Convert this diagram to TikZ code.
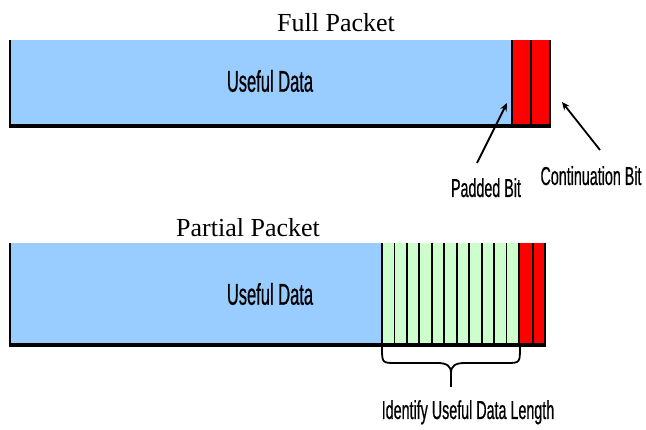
\documentclass[tikz,border=0pt]{standalone}
\usepackage{fontspec}
\setmainfont{Liberation Serif}
\newfontfamily\narrowsans[FakeStretch=0.55,FakeBold=0.6]{Liberation Sans}
\usetikzlibrary{arrows.meta}
\definecolor{datablue}{HTML}{99CCFF}
\definecolor{lengreen}{HTML}{CCFFCC}
\definecolor{bitred}{HTML}{FF0000}
\begin{document}
\begin{tikzpicture}[x=1pt,y=-1pt,
  titletext/.style={font=\fontsize{26}{30}\selectfont, inner sep=0pt, anchor=base},
  datatext/.style={font=\narrowsans\fontsize{30}{34}\selectfont, inner sep=0pt},
  labeltext/.style={font=\narrowsans\fontsize{26}{30}\selectfont, inner sep=0pt, anchor=base},
  divider/.style={line width=1.8pt},
  baseline/.style={line width=3.5pt},
  pointer/.style={line width=1.8pt, -{Stealth[length=8pt,width=7pt]}},
  bracestyle/.style={line width=1.8pt, line join=round}]
\useasboundingbox (0,0) rectangle (646,430);

% ---------- Full packet ----------
\node[titletext] (fulltitle) at (336,32) {Full Packet};
\fill[datablue] (10,40) rectangle (512,125);
\fill[bitred] (512,40) rectangle (550,125);
\draw[divider] (10,40) -- (10,126);
\foreach \xx in {512,531,550} \draw[divider] (\xx,40) -- (\xx,126);
\draw[baseline] (8.5,126) -- (551,126);
\node[datatext] (fulldata) at (270,81) {Useful Data};

\node[labeltext] (padded) at (486,197) {Padded Bit};
\node[labeltext] (contin) at (591,185) {Continuation Bit};
\coordinate (paddedtail) at (477,163);
\coordinate (paddedhead) at (507,103);
\coordinate (contintail) at (600,150);
\coordinate (continhead) at (562,102);
\draw[pointer] (paddedtail) -- (paddedhead);
\draw[pointer] (contintail) -- (continhead);

% ---------- Partial packet ----------
\node[titletext] (parttitle) at (248,237) {Partial Packet};
\fill[datablue] (10,243) rectangle (382,344);
\fill[lengreen] (382,243) rectangle (519,344);
\fill[bitred] (519,243) rectangle (545,344);
\draw[divider] (10,243) -- (10,345);
\foreach \k in {0,...,11} \draw[divider] ({382+\k*137/11},243) -- ({382+\k*137/11},345);
\draw[divider] (533,243) -- (533,345);
\draw[divider] (545,243) -- (545,345);
\draw[baseline] (8.5,345) -- (546,345);
\node[datatext] (partdata) at (270,294) {Useful Data};

% brace
\coordinate (braceL) at (382,347);
\coordinate (braceR) at (520,347);
\coordinate (bracetip) at (451,387);
\draw[bracestyle] (braceL) .. controls (382,363) and (382,363) .. (396,363)
  -- (437,363) .. controls (447,363) and (451,366) .. (451,373) -- (bracetip);
\draw[bracestyle] (bracetip) -- (451,373) .. controls (451,366) and (455,363) .. (465,363)
  -- (506,363) .. controls (520,363) and (520,363) .. (braceR);
\node[labeltext] (lengthlabel) at (468,419) {Identify Useful Data Length};
\end{tikzpicture}
\end{document}
